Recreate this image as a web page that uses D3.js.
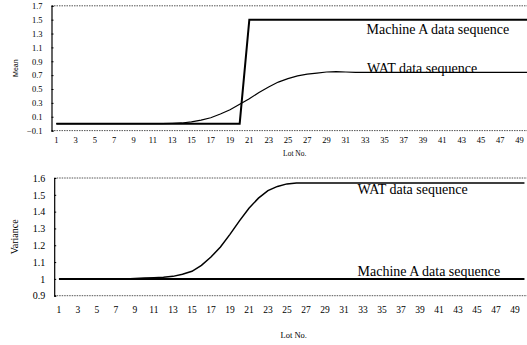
<!DOCTYPE html>
<html>
<head>
<meta charset="utf-8">
<script src="https://cdn.jsdelivr.net/npm/d3@7"></script>
<style>
  html, body { margin: 0; padding: 0; background: #fff; }
  svg { display: block; }
  text { fill: #000; }
</style>
</head>
<body>
<svg id="chart" width="527" height="345"></svg>
<script>
// Lot numbers 1..50
const lots = d3.range(1, 51);
const lotTicks = d3.range(1, 50, 2);

// Mean per lot
const meanMachineA = [
  0, 0, 0, 0, 0, 0, 0, 0, 0, 0,
  0, 0, 0, 0, 0, 0, 0, 0, 0, 0,
  1.5, 1.5, 1.5, 1.5, 1.5, 1.5, 1.5, 1.5, 1.5, 1.5,
  1.5, 1.5, 1.5, 1.5, 1.5, 1.5, 1.5, 1.5, 1.5, 1.5,
  1.5, 1.5, 1.5, 1.5, 1.5, 1.5, 1.5, 1.5, 1.5, 1.5
];
const meanWAT = [
  0, 0, 0, 0, 0, 0, 0, 0, 0, 0,
  0, 0, 0.005, 0.01, 0.025, 0.05, 0.085, 0.14, 0.2, 0.28,
  0.36, 0.45, 0.53, 0.6, 0.65, 0.69, 0.715, 0.73, 0.745, 0.75,
  0.745, 0.74, 0.74, 0.74, 0.74, 0.74, 0.74, 0.74, 0.74, 0.74,
  0.74, 0.74, 0.74, 0.74, 0.74, 0.74, 0.74, 0.74, 0.74, 0.74
];
const meanTicks = [-0.1, 0.1, 0.3, 0.5, 0.7, 0.9, 1.1, 1.3, 1.5, 1.7];

// Variance per lot
const varMachineA = lots.map(() => 1);
const varWAT = [
  1, 1, 1, 1, 1, 1, 1, 1, 1.003, 1.005,
  1.007, 1.01, 1.015, 1.028, 1.045, 1.08, 1.13, 1.19, 1.265, 1.345,
  1.42, 1.48, 1.525, 1.55, 1.565, 1.57, 1.57, 1.57, 1.57, 1.57,
  1.57, 1.57, 1.57, 1.57, 1.57, 1.57, 1.57, 1.57, 1.57, 1.57,
  1.57, 1.57, 1.57, 1.57, 1.57, 1.57, 1.57, 1.57, 1.57, 1.57
];
const varTicks = [0.9, 1, 1.1, 1.2, 1.3, 1.4, 1.5, 1.6];

const svg = d3.select("#chart");
const serif = "'Liberation Serif', 'Times New Roman', serif";

function panel(opts) {
  const { left, right, top, bottom, yDomain, yTicks, yFmt, series,
          tickFont, yTickFont, xLabelY, lotLabelY, lotFont, yTitle, yTitleX,
          yTitleFont, yTitleFamily, notes } = opts;
  const g = svg.append("g");
  const x = d3.scalePoint().domain(lots).range([left, right]).padding(0.5);
  const y = d3.scaleLinear().domain(yDomain).range([bottom, top]);

  // Plot frame: dotted top/bottom, solid left axis
  g.append("line").attr("x1", left).attr("x2", right).attr("y1", top).attr("y2", top)
    .attr("stroke", "#555").attr("stroke-width", 1).attr("stroke-dasharray", "1.5,1");
  g.append("line").attr("x1", left).attr("x2", right).attr("y1", bottom).attr("y2", bottom)
    .attr("stroke", "#555").attr("stroke-width", 1).attr("stroke-dasharray", "1.5,1");

  const yAxis = d3.axisLeft(y).tickValues(yTicks).tickFormat(yFmt).tickSize(-2).tickPadding(9);
  const ya = g.append("g").attr("transform", `translate(${left},0)`).call(yAxis);
  ya.select(".domain").attr("stroke", "#000").attr("stroke-width", 1.2);
  ya.selectAll(".tick line").attr("stroke", "#000");
  ya.selectAll("text").attr("font-family", serif).attr("font-size", yTickFont);

  // Category labels (odd lots)
  g.append("g").selectAll("text").data(lotTicks).join("text")
    .attr("x", d => x(d)).attr("y", xLabelY)
    .attr("text-anchor", "middle").attr("dominant-baseline", "central")
    .attr("font-family", serif).attr("font-size", tickFont)
    .text(d => d);

  g.append("text").attr("x", (x(25) + x(26)) / 2 + 2).attr("y", lotLabelY)
    .attr("text-anchor", "middle").attr("dominant-baseline", "central")
    .attr("font-family", serif).attr("font-size", lotFont).text("Lot No.");

  g.append("text")
    .attr("transform", `translate(${yTitleX},${(top + bottom) / 2}) rotate(-90)`)
    .attr("text-anchor", "middle").attr("dominant-baseline", "central")
    .attr("font-family", yTitleFamily).attr("font-size", yTitleFont).text(yTitle);

  const line = d3.line().x((d, i) => x(lots[i])).y(d => y(d));
  series.forEach(s => {
    g.append("path").datum(s.values).attr("d", line)
      .attr("fill", "none").attr("stroke", "#000").attr("stroke-width", s.width)
      .attr("stroke-linejoin", "miter");
  });

  notes.forEach(n => {
    g.append("text").attr("x", n.x).attr("y", n.y)
      .attr("font-family", serif).attr("font-size", 14).text(n.text);
  });
}

panel({
  left: 51.5, right: 534, top: 5.8, bottom: 130.6,
  yDomain: [-0.1, 1.7], yTicks: meanTicks, yFmt: d3.format(".1f"),
  series: [{ values: meanWAT, width: 1.2 }, { values: meanMachineA, width: 2 }],
  tickFont: 8.5, yTickFont: 8.5, xLabelY: 140, lotLabelY: 153, lotFont: 7.5,
  yTitle: "Mean", yTitleX: 15, yTitleFont: 7, yTitleFamily: "'Liberation Sans', Arial, sans-serif",
  notes: [
    { text: "Machine A data sequence", x: 366.5, y: 33.5 },
    { text: "WAT data sequence", x: 367, y: 72.5 }
  ]
});

panel({
  left: 54.2, right: 529.2, top: 178, bottom: 295.7,
  yDomain: [0.9, 1.6], yTicks: varTicks, yFmt: d => d3.format(".1f")(d).replace(/\.0$/, ""),
  series: [{ values: varWAT, width: 1.5 }, { values: varMachineA, width: 2 }],
  tickFont: 9.5, yTickFont: 10, xLabelY: 310, lotLabelY: 335, lotFont: 8.5,
  yTitle: "Variance", yTitleX: 14, yTitleFont: 10, yTitleFamily: serif,
  notes: [
    { text: "WAT data sequence", x: 357.5, y: 194 },
    { text: "Machine A data sequence", x: 357.5, y: 276 }
  ]
});
</script>
</body>
</html>
